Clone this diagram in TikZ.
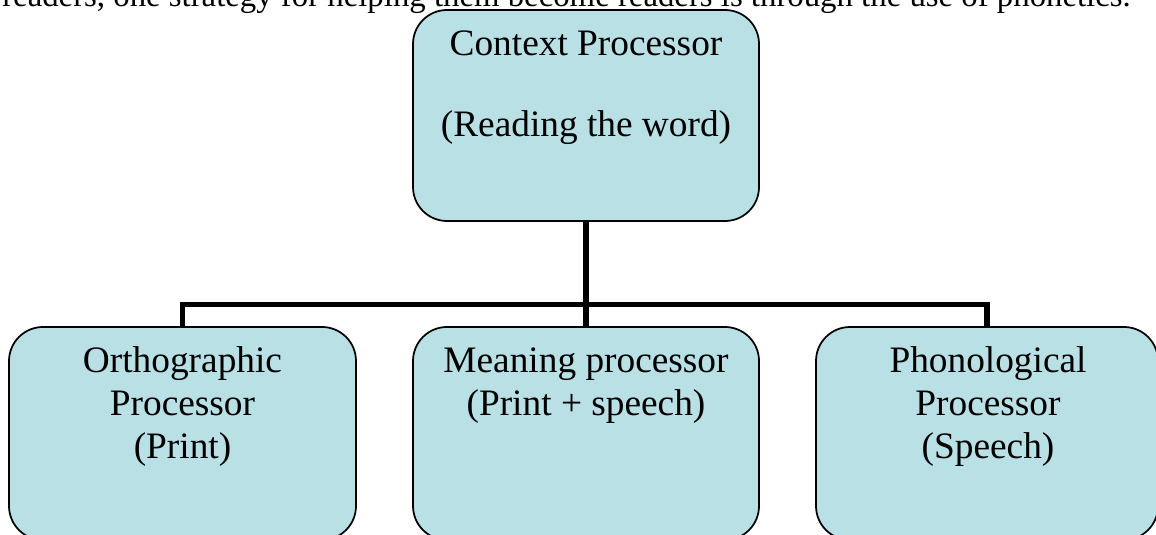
\documentclass[tikz,border=0pt]{standalone}
\usepackage{fontspec}
\setmainfont{Liberation Serif}
\usetikzlibrary{backgrounds}
\definecolor{boxfill}{RGB}{185,224,228}
\begin{document}
\begin{tikzpicture}[x=0.75pt,y=-0.75pt,
  pbox/.style={draw=black, line width=1.3pt, fill=boxfill, rounded corners=25.5pt, inner sep=0pt, outer sep=0pt, anchor=north west},
  ptext/.style={anchor=base, align=center, font=\fontsize{28}{32.25}\selectfont, inner sep=0pt},
  conn/.style={line width=3.8pt, line join=miter}]
\useasboundingbox (0,0) rectangle (1156,535);
\clip (0,0) rectangle (1156,535);
\node[anchor=base west, inner sep=0pt, font=\fontsize{24.6}{28}\selectfont] (intro) at (2,7) {readers, one strategy for helping them become readers is through the use of phonetics.};
\node[pbox, minimum width=259.5pt, minimum height=158.25pt] (top) at (413,10) {};
\node[pbox, minimum width=260.25pt, minimum height=159.75pt] (left) at (9,327) {};
\node[pbox, minimum width=259.5pt, minimum height=159.75pt] (mid) at (413,327) {};
\node[pbox, minimum width=256.5pt, minimum height=159.75pt] (right) at (816,327) {};
\coordinate (hub) at (top.south |- 0,304.5);
\begin{scope}[on background layer]
\draw[conn] (top.south) -- (hub);
\draw[conn] (left.north) |- (hub) -| (right.north);
\draw[conn] (hub) -- (mid.north);
\end{scope}
\node[ptext] (toptext) at (586,137) {Context Processor\\[29.25pt](Reading the word)};
\node[ptext] (lefttext) at (182.5,458) {Orthographic\\Processor\\(Print)};
\node[ptext] (midtext) at (586,415) {Meaning processor\\(Print + speech)};
\node[ptext] (righttext) at (988,458) {Phonological\\Processor\\(Speech)};
\end{tikzpicture}
\end{document}
